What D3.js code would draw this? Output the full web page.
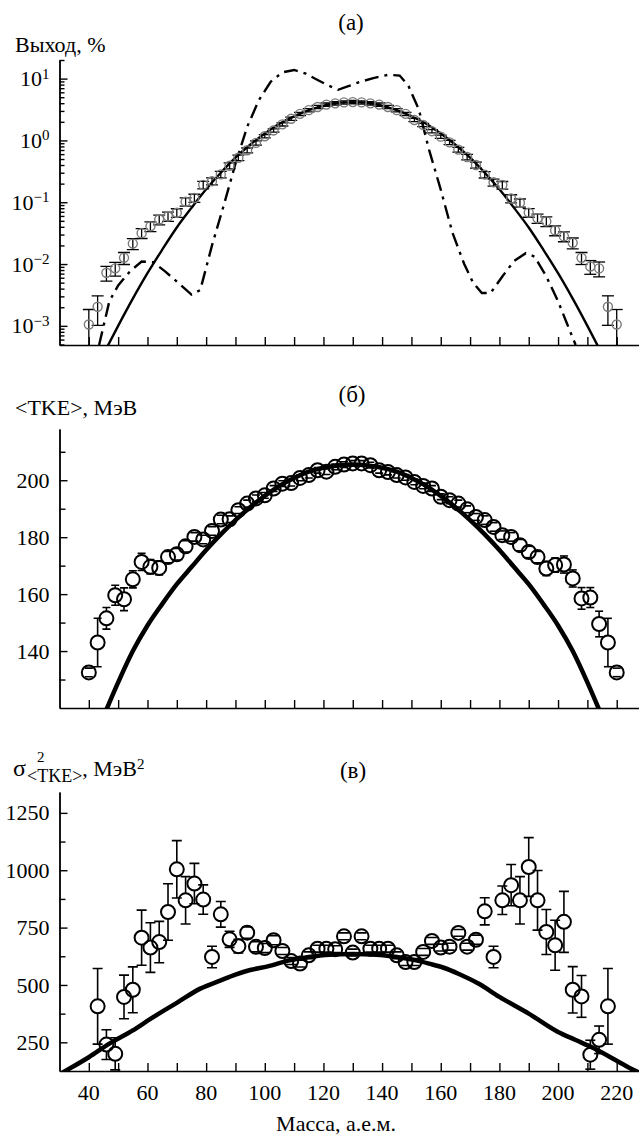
<!DOCTYPE html>
<html>
<head>
<meta charset="utf-8">
<script src="https://cdn.jsdelivr.net/npm/d3@7"></script>
<style>
body { margin: 0; background: #fff; }
svg text { font-family: "Liberation Serif", "Times New Roman", "DejaVu Serif", serif; fill: #000; }
</style>
</head>
<body>
<svg id="chart" width="639" height="1137" font-family="Liberation Serif, Times New Roman, serif"></svg>
<script>
// fragment masses, a.m.u.
const masses = [40, 43, 46, 49, 52, 55, 58, 61, 64, 67, 70, 73, 76, 79, 82, 85, 88, 91, 94, 97,
  100, 103, 106, 109, 112, 115, 118, 121, 124, 127, 130, 133, 136, 139, 142, 145, 148, 151, 154, 157, 160,
  163, 166, 169, 172, 175, 178, 181, 184, 187, 190, 193, 196, 199, 202, 205, 208, 211, 214, 217, 220]

// (a) yield, %
const yieldExp = [0.00105, 0.00204, 0.00724, 0.00851, 0.0126, 0.0214, 0.0316, 0.0407, 0.0525, 0.0589,
  0.0676, 0.102, 0.117, 0.191, 0.219, 0.282, 0.389, 0.525, 0.692, 0.912,
  1.17, 1.45, 1.82, 2.24, 2.69, 3.09, 3.47, 3.80, 3.98, 4.12, 4.17, 4.12, 3.98, 3.80, 3.47, 3.09, 2.69, 2.14, 1.78, 1.41, 1.15,
  0.93, 0.71, 0.54, 0.40, 0.28, 0.21, 0.19, 0.115, 0.098, 0.068,
  0.055, 0.049, 0.035, 0.028, 0.022, 0.0126, 0.0091, 0.0085, 0.00204, 0.00105]
const yieldErrRel = [0.75, 0.5, 0.27, 0.25, 0.22, 0.2, 0.18, 0.18, 0.18, 0.17, 0.16, 0.15, 0.15, 0.14, 0.13, 0.12, 0.11, 0.1, 0.09, 0.08,
  0.06, 0.06, 0.06, 0.06, 0.06, 0.06, 0.06, 0.06, 0.06, 0.06, 0.06, 0.06, 0.06, 0.06, 0.06, 0.06, 0.06, 0.06, 0.06, 0.06, 0.06,
  0.08, 0.09, 0.1, 0.11, 0.12, 0.13, 0.14, 0.15, 0.15, 0.16, 0.17, 0.18, 0.18, 0.18, 0.2, 0.22, 0.25, 0.27, 0.5, 0.75]

const yieldCalcMass = [45, 50, 55, 60, 65, 70, 75, 80, 85, 90, 95, 100, 105, 110, 115, 120, 125, 130,
  135, 140, 145, 150, 155, 160, 165, 170, 175, 180, 185, 190, 195, 200, 205, 210, 215]
const yieldCalc = [0.00035, 0.0010, 0.00275, 0.0071, 0.017, 0.039, 0.081, 0.162, 0.30, 0.525, 0.85, 1.29, 1.86, 2.45, 3.09, 3.63, 4.07, 4.17,
  4.07, 3.63, 3.09, 2.45, 1.86, 1.29, 0.85, 0.525, 0.30, 0.162, 0.081, 0.039, 0.017, 0.0071, 0.00275, 0.0010, 0.00035]

const yieldDashMass = [43.5, 47, 50, 54, 58, 62, 66, 70, 75, 78, 82, 86, 90, 94, 98, 102, 106, 110, 114, 118, 122,
  125, 128, 132, 137, 142, 146, 149, 152.5, 156, 160, 164, 168, 171, 174, 177, 181, 185, 189, 192, 196, 200, 203, 206]
const yieldDash = [0.00049, 0.0025, 0.0045, 0.0076, 0.011, 0.0107, 0.0076, 0.0052, 0.0032, 0.0038, 0.02, 0.089, 0.42, 1.66, 4.5, 8.9, 12.6, 13.8, 12.0, 9.5, 7.6,
  6.6, 7.4, 8.7, 10.2, 11.5, 11.2, 7.6, 3.2, 0.71, 0.16, 0.032, 0.01, 0.005, 0.0034, 0.0034, 0.0063, 0.0112, 0.015, 0.0132, 0.0063, 0.0025, 0.0011, 0.00049]

// (б) <TKE>, MeV
const tkeExp = [132.5, 143, 151.5, 159.6, 158.2, 165.2, 171.3, 169.6, 169.2, 173, 174, 176.8, 180.1, 179.2, 182.2, 186.2, 186.3, 189.5, 191.8, 193.6,
  194.7, 197.1, 198.8, 199, 200.8, 201.8, 203.5, 203, 204.7, 205.5, 205.9, 205.9, 205.3, 203.5, 202.9, 201.8, 201, 199.4, 198, 197.1, 194.2,
  193, 191.8, 189.8, 187.1, 186, 183.6, 180.7, 180.1, 177.2, 174.8, 173, 169, 170.2, 170.4, 165.5, 158.5, 158.8, 149.5, 143, 132.5]
const tkeErr = [1.5, 8.5, 3.8, 3.5, 4, 3, 3, 2.5, 2.5, 2, 2, 2, 1.5, 1.5, 1.5, 1.5, 1.2, 1.2, 1.2, 1.2,
  1, 1, 1, 1, 1, 1, 1, 1, 1, 1, 1, 1, 1, 1, 1, 1, 1, 1, 1, 1, 1,
  1.2, 1.2, 1.2, 1.2, 1.5, 1.5, 1.5, 1.5, 2, 2, 2, 2.5, 2.5, 3, 3, 3.8, 3.5, 4.5, 8.5, 1.5]

const tkeCalcMass = [45, 50, 55, 60, 65, 70, 75, 80, 85, 90, 95, 100, 105, 110, 115, 120, 125, 130,
  135, 140, 145, 150, 155, 160, 165, 170, 175, 180, 185, 190, 195, 200, 205, 210, 215]
const tkeCalc = [117, 129, 140, 149, 156.5, 163.5, 169.5, 175.5, 181, 186, 190.5, 194.5, 198, 200.8, 203, 204.4, 205.2, 205.5,
  205.2, 204.4, 203, 200.8, 198, 194.5, 190.5, 186, 181, 175.5, 169.5, 163.5, 156.5, 149, 140, 129, 117]

// (в) variance of TKE, MeV^2
const varMass = [43, 46, 49, 52, 55, 58, 61, 64, 67, 70, 73, 76, 79, 82, 85, 88, 91, 94, 97,
  100, 103, 106, 109, 112, 115, 118, 121, 124, 127, 130, 133, 136, 139, 142, 145, 148, 151, 154, 157, 160,
  163, 166, 169, 172, 175, 178, 181, 184, 187, 190, 193, 196, 199, 202, 205, 208, 211, 214, 217]
const varExp = [407, 240, 200, 448, 479, 706, 663, 687, 818, 1004, 869, 942, 872, 622, 808, 699, 669, 728, 666,
  661, 695, 648, 604, 593, 629, 658, 658, 656, 712, 641, 712, 658, 658, 658, 629, 600, 600, 644, 692, 663,
  667, 727, 667, 697, 821, 622, 869, 935, 869, 1014, 869, 731, 673, 775, 479, 450, 196, 261, 407]
const varErr = [165, 65, 70, 95, 100, 120, 108, 90, 123, 125, 103, 88, 64, 47, 56, 35, 30, 25, 22,
  20, 20, 15, 15, 15, 15, 15, 15, 15, 15, 15, 15, 15, 15, 15, 15, 15, 15, 15, 15, 15,
  15, 15, 15, 20, 59, 47, 62, 90, 103, 128, 130, 98, 109, 133, 101, 91, 63, 60, 165]

const varCalcMass = [30, 32, 40, 47, 55, 61, 70, 78, 85, 90, 95, 101, 108, 115, 122, 130, 138, 145, 152, 156,
  161, 166, 173, 180, 190, 200, 206, 212, 220, 226, 230]
const varCalc = [110, 125, 185, 244, 302, 352, 422, 484, 520, 545, 565, 581, 606, 622, 632, 635, 632, 622, 606, 593,
  575, 549, 505, 448, 375, 295, 260, 225, 170, 128, 105]

// ticks
const massTicks = [40, 50, 60, 70, 80, 90, 100, 110, 120, 130, 140, 150, 160, 170, 180, 190, 200, 210, 220]
const massLabels = [40, 60, 80, 100, 120, 140, 160, 180, 200, 220]
const yieldDecades = [0.001, 0.01, 0.1, 1, 10]
const tkeTicks = [130, 150, 170, 190, 210]
const tkeLabels = [140, 160, 180, 200]
const varTicks = [375, 625, 875, 1125]
const varLabels = [250, 500, 750, 1000, 1250]

const FONT = '"Liberation Serif", "Times New Roman", serif'
const svg = d3.select('#chart')
svg.append('rect').attr('width', 639).attr('height', 1137).attr('fill', '#fff')

const x = d3.scaleLinear().domain([30, 227.6]).range([59.5, 639])
const yA = d3.scaleLog().domain([4.9e-4, 20]).range([345, 60])
const yB = d3.scaleLinear().domain([120, 218]).range([708, 429])
const yC = d3.scaleLinear().domain([125, 1341]).range([1071, 792])

function label(xp, yp, size, str, anchor) {
  return svg.append('text').attr('x', xp).attr('y', yp).attr('font-size', size)
    .attr('font-family', FONT).attr('text-anchor', anchor || 'start').text(str)
}

function clip(id, y) {
  const [y0, y1] = y.range()
  svg.append('clipPath').attr('id', id)
    .append('rect').attr('x', 59.5).attr('y', y1).attr('width', 639 - 59.5).attr('height', y0 - y1)
  return svg.append('g').attr('clip-path', `url(#${id})`)
}

function styleAxis(g) {
  g.attr('font-family', FONT).attr('font-size', 22)
  g.selectAll('path, line').attr('stroke', '#000').attr('stroke-width', 1.4)
}

function xAxis(y) {
  const g = svg.append('g').attr('transform', `translate(0,${y.range()[0]})`)
    .call(d3.axisBottom(x).tickValues(massTicks).tickSizeInner(-8).tickSizeOuter(0).tickFormat(''))
  styleAxis(g)
}

// minor (unlabelled) ticks are a bit shorter than labelled ones
function yAxis(y, ticks, labels, size) {
  const g = svg.append('g').attr('transform', 'translate(59.5,0)')
    .call(d3.axisLeft(y).tickValues(ticks).tickSizeInner(-size).tickSizeOuter(0).tickPadding(10)
      .tickFormat(d => labels.includes(d) ? d : ''))
  styleAxis(g)
  return g
}

// ---------- (a) ----------
xAxis(yA)
yAxis(yA, yA.ticks().filter(d => !yieldDecades.includes(d)), [], 5)
const gAy = yAxis(yA, yieldDecades, yieldDecades, 8)
gAy.selectAll('.tick text').each(function(d) {
  const t = d3.select(this).text('10')
  const p = Math.round(Math.log10(d))
  t.append('tspan').attr('dy', '-0.5em').attr('font-size', 15).text(p < 0 ? '\u2212' + (-p) : p)
})

const pA = clip('clipA', yA)
pA.append('path').datum(yieldCalcMass.map((m, i) => [m, yieldCalc[i]]))
  .attr('fill', 'none').attr('stroke', '#000').attr('stroke-width', 2.4)
  .attr('d', d3.line().x(d => x(d[0])).y(d => yA(d[1])).curve(d3.curveMonotoneX))
pA.append('path').datum(yieldDashMass.map((m, i) => [m, yieldDash[i]]))
  .attr('fill', 'none').attr('stroke', '#000').attr('stroke-width', 2.4)
  .attr('stroke-dasharray', '14,6,3,6')
  .attr('d', d3.line().x(d => x(d[0])).y(d => yA(d[1])))

const dataA = masses.map((m, i) => ({m, v: yieldExp[i], e: yieldExp[i] * yieldErrRel[i]}))
const ebA = pA.append('g').attr('stroke', '#000').attr('stroke-width', 1.3)
dataA.forEach(d => {
  const lo = Math.max(d.v - d.e, 1e-5)
  ebA.append('line').attr('x1', x(d.m)).attr('x2', x(d.m)).attr('y1', yA(lo)).attr('y2', yA(d.v + d.e))
  ebA.append('line').attr('x1', x(d.m) - 6).attr('x2', x(d.m) + 6).attr('y1', yA(lo)).attr('y2', yA(lo))
  ebA.append('line').attr('x1', x(d.m) - 6).attr('x2', x(d.m) + 6).attr('y1', yA(d.v + d.e)).attr('y2', yA(d.v + d.e))
})
pA.selectAll('circle.pt').data(dataA).join('circle')
  .attr('cx', d => x(d.m)).attr('cy', d => yA(d.v)).attr('r', 4.5)
  .attr('fill', 'none').attr('stroke', '#7a7a7a').attr('stroke-width', 1.4)

label(15, 52, 22, 'Выход, %')
label(351, 30, 23, '(а)', 'middle')

// ---------- points with error bars for (б) and (в) ----------
function points(g, y, ms, vals, errs, r, cap) {
  const eb = g.append('g').attr('stroke', '#000').attr('stroke-width', 1.6)
  ms.forEach((m, i) => {
    const cx = x(m), cy = y(vals[i]), top = y(vals[i] + errs[i]), bot = y(vals[i] - errs[i])
    if (cy - top > r) eb.append('line').attr('x1', cx).attr('x2', cx).attr('y1', top).attr('y2', cy - r)
    if (bot - cy > r) eb.append('line').attr('x1', cx).attr('x2', cx).attr('y1', cy + r).attr('y2', bot)
    eb.append('line').attr('x1', cx - cap).attr('x2', cx + cap).attr('y1', top).attr('y2', top)
    eb.append('line').attr('x1', cx - cap).attr('x2', cx + cap).attr('y1', bot).attr('y2', bot)
  })
  g.append('g').selectAll('circle').data(ms).join('circle')
    .attr('cx', d => x(d)).attr('cy', (d, i) => y(vals[i])).attr('r', r)
    .attr('fill', 'none').attr('stroke', '#000').attr('stroke-width', 2)
}

// ---------- (б) ----------
xAxis(yB)
yAxis(yB, tkeTicks, [], 6)
yAxis(yB, tkeLabels, tkeLabels, 8)
const pB = clip('clipB', yB)
pB.append('path').datum(tkeCalcMass.map((m, i) => [m, tkeCalc[i]]))
  .attr('fill', 'none').attr('stroke', '#000').attr('stroke-width', 4.5)
  .attr('d', d3.line().x(d => x(d[0])).y(d => yB(d[1])).curve(d3.curveMonotoneX))
points(pB, yB, masses, tkeExp, tkeErr, 7, 4)

label(15, 415, 22, '<TKE>, МэВ')
label(352, 402, 23, '(б)', 'middle')

// ---------- (в) ----------
xAxis(yC)
yAxis(yC, varTicks, [], 6)
yAxis(yC, varLabels, varLabels, 8)
const pC = clip('clipC', yC)
pC.append('path').datum(varCalcMass.map((m, i) => [m, varCalc[i]]))
  .attr('fill', 'none').attr('stroke', '#000').attr('stroke-width', 4.5)
  .attr('d', d3.line().x(d => x(d[0])).y(d => yC(d[1])).curve(d3.curveMonotoneX))
points(pC, yC, varMass, varExp, varErr, 7, 5)

massLabels.forEach(d => label(x(d), 1100, 22, d, 'middle'))
label(336, 1131, 22, 'Масса, а.е.м.', 'middle')

label(13, 776, 24, 'σ')
label(37, 762, 15, '2')
const sub = label(27, 782, 18, '<TKE>')
const subEnd = 27 + sub.node().getComputedTextLength()
label(subEnd, 776, 22, ', МэВ').append('tspan').attr('dy', '-0.5em').attr('font-size', 15).text('2')
label(353, 778, 23, '(в)', 'middle')
</script>
</body>
</html>
